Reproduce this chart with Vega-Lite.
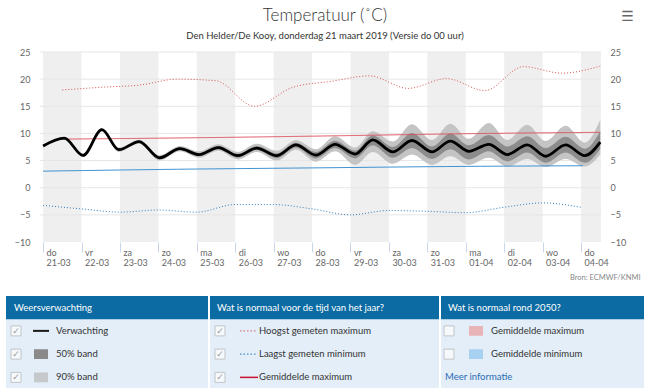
{
 "$schema": "https://vega.github.io/schema/vega-lite/v6.json",
 "padding": {"left": 6, "top": 6, "right": 5, "bottom": 0},
 "background": "white",
 "title": {"text": "Temperatuur (˚C)", "subtitle": "Den Helder/De Kooy, donderdag 21 maart 2019 (Versie do 00 uur)", "anchor": "middle", "fontSize": 17, "font": "Lato", "fontWeight": 300, "color": "#333333", "subtitleFont": "Lato", "subtitleFontSize": 9.5, "subtitleColor": "#333333", "subtitlePadding": 6, "offset": -32},
 "datasets": {
  "days": [{"start": 0, "end": 1}, {"start": 2, "end": 3}, {"start": 4, "end": 5}, {"start": 6, "end": 7}, {"start": 8, "end": 9}, {"start": 10, "end": 11}, {"start": 12, "end": 13}, {"start": 14, "end": 15}],
  "grid": [{"v": -5}, {"v": 0}, {"v": 5}, {"v": 10}, {"v": 15}, {"v": 20}, {"v": 25}],
  "fc": [
   {"day": 0, "val": 7.7, "lo90": 7.55, "lo50": 7.62, "hi50": 7.78, "hi90": 7.85},
   {"day": 0.55, "val": 9.15, "lo90": 8.95, "lo50": 9.05, "hi50": 9.25, "hi90": 9.35},
   {"day": 1.04, "val": 5.95, "lo90": 5.7, "lo50": 5.82, "hi50": 6.1, "hi90": 6.25},
   {"day": 1.53, "val": 10.7, "lo90": 10.35, "lo50": 10.5, "hi50": 10.85, "hi90": 10.95},
   {"day": 1.97, "val": 7.0, "lo90": 6.6, "lo50": 6.8, "hi50": 7.2, "hi90": 7.4},
   {"day": 2.5, "val": 8.5, "lo90": 8.1, "lo50": 8.3, "hi50": 8.65, "hi90": 8.85},
   {"day": 3.03, "val": 5.5, "lo90": 5.0, "lo50": 5.25, "hi50": 5.75, "hi90": 6.0},
   {"day": 3.56, "val": 7.2, "lo90": 6.7, "lo50": 6.95, "hi50": 7.45, "hi90": 7.7},
   {"day": 4.06, "val": 6.1, "lo90": 5.5, "lo50": 5.8, "hi50": 6.4, "hi90": 6.7},
   {"day": 4.56, "val": 7.4, "lo90": 6.8, "lo50": 7.1, "hi50": 7.7, "hi90": 8.0},
   {"day": 5.07, "val": 5.9, "lo90": 5.2, "lo50": 5.55, "hi50": 6.25, "hi90": 6.6},
   {"day": 5.56, "val": 7.3, "lo90": 6.6, "lo50": 6.95, "hi50": 7.65, "hi90": 8.1},
   {"day": 6.08, "val": 5.9, "lo90": 5.0, "lo50": 5.45, "hi50": 6.35, "hi90": 6.8},
   {"day": 6.58, "val": 7.9, "lo90": 7.0, "lo50": 7.4, "hi50": 8.3, "hi90": 8.8},
   {"day": 7.1, "val": 6.0, "lo90": 4.8, "lo50": 5.4, "hi50": 6.6, "hi90": 7.1},
   {"day": 7.6, "val": 8.0, "lo90": 6.7, "lo50": 7.3, "hi50": 8.65, "hi90": 9.5},
   {"day": 8.12, "val": 6.2, "lo90": 4.2, "lo50": 5.4, "hi50": 6.8, "hi90": 7.4},
   {"day": 8.58, "val": 8.8, "lo90": 6.6, "lo50": 7.8, "hi50": 9.6, "hi90": 10.4},
   {"day": 9.1, "val": 6.6, "lo90": 4.4, "lo50": 5.5, "hi50": 7.5, "hi90": 8.5},
   {"day": 9.6, "val": 8.7, "lo90": 6.1, "lo50": 7.3, "hi50": 10.1, "hi90": 11.7},
   {"day": 10.12, "val": 6.6, "lo90": 4.2, "lo50": 5.3, "hi50": 7.6, "hi90": 8.8},
   {"day": 10.6, "val": 8.6, "lo90": 5.8, "lo50": 7.1, "hi50": 10.0, "hi90": 11.8},
   {"day": 11.08, "val": 6.7, "lo90": 4.2, "lo50": 5.2, "hi50": 7.8, "hi90": 9.0},
   {"day": 11.6, "val": 8.0, "lo90": 5.5, "lo50": 6.7, "hi50": 9.7, "hi90": 11.9},
   {"day": 12.08, "val": 6.1, "lo90": 3.9, "lo50": 4.85, "hi50": 7.6, "hi90": 8.8},
   {"day": 12.6, "val": 7.9, "lo90": 5.3, "lo50": 6.5, "hi50": 9.5, "hi90": 11.6},
   {"day": 13.08, "val": 5.8, "lo90": 3.8, "lo50": 4.6, "hi50": 7.3, "hi90": 8.6},
   {"day": 13.6, "val": 7.9, "lo90": 5.3, "lo50": 6.5, "hi50": 9.4, "hi90": 11.4},
   {"day": 14.1, "val": 5.9, "lo90": 3.9, "lo50": 4.6, "hi50": 7.2, "hi90": 8.3},
   {"day": 14.5, "val": 8.4, "lo90": 6.1, "lo50": 7.2, "hi50": 10.4, "hi90": 12.5}
  ],
  "normals": [
   {"series": "Hoogst gemeten maximum", "day": 0.5, "v": 18.0},
   {"series": "Hoogst gemeten maximum", "day": 1.5, "v": 18.5},
   {"series": "Hoogst gemeten maximum", "day": 2.5, "v": 18.9},
   {"series": "Hoogst gemeten maximum", "day": 3.5, "v": 20.0},
   {"series": "Hoogst gemeten maximum", "day": 4.5, "v": 19.7},
   {"series": "Hoogst gemeten maximum", "day": 5.5, "v": 15.0},
   {"series": "Hoogst gemeten maximum", "day": 6.5, "v": 18.5},
   {"series": "Hoogst gemeten maximum", "day": 7.5, "v": 19.6},
   {"series": "Hoogst gemeten maximum", "day": 8.5, "v": 20.6},
   {"series": "Hoogst gemeten maximum", "day": 9.5, "v": 18.3},
   {"series": "Hoogst gemeten maximum", "day": 10.5, "v": 20.1},
   {"series": "Hoogst gemeten maximum", "day": 11.5, "v": 17.9},
   {"series": "Hoogst gemeten maximum", "day": 12.5, "v": 22.3},
   {"series": "Hoogst gemeten maximum", "day": 13.5, "v": 21.1},
   {"series": "Hoogst gemeten maximum", "day": 14.5, "v": 22.4},
   {"series": "Laagst gemeten minimum", "day": 0, "v": -3.25},
   {"series": "Laagst gemeten minimum", "day": 1, "v": -3.9},
   {"series": "Laagst gemeten minimum", "day": 2, "v": -4.5},
   {"series": "Laagst gemeten minimum", "day": 3, "v": -4.1},
   {"series": "Laagst gemeten minimum", "day": 4, "v": -4.5},
   {"series": "Laagst gemeten minimum", "day": 5, "v": -3.1},
   {"series": "Laagst gemeten minimum", "day": 6, "v": -3.1},
   {"series": "Laagst gemeten minimum", "day": 7, "v": -3.9},
   {"series": "Laagst gemeten minimum", "day": 8, "v": -5.0},
   {"series": "Laagst gemeten minimum", "day": 9, "v": -4.2},
   {"series": "Laagst gemeten minimum", "day": 10, "v": -4.35},
   {"series": "Laagst gemeten minimum", "day": 11, "v": -4.6},
   {"series": "Laagst gemeten minimum", "day": 12, "v": -3.6},
   {"series": "Laagst gemeten minimum", "day": 13, "v": -2.8},
   {"series": "Laagst gemeten minimum", "day": 14, "v": -3.6},
   {"series": "Gemiddelde maximum", "day": 0.5, "v": 8.95},
   {"series": "Gemiddelde maximum", "day": 4.5, "v": 9.25},
   {"series": "Gemiddelde maximum", "day": 7.5, "v": 9.55},
   {"series": "Gemiddelde maximum", "day": 11, "v": 9.95},
   {"series": "Gemiddelde maximum", "day": 14.5, "v": 10.2},
   {"series": "Gemiddelde minimum", "day": 0, "v": 3.05},
   {"series": "Gemiddelde minimum", "day": 3.5, "v": 3.4},
   {"series": "Gemiddelde minimum", "day": 7, "v": 3.65},
   {"series": "Gemiddelde minimum", "day": 10.5, "v": 3.9},
   {"series": "Gemiddelde minimum", "day": 14.05, "v": 4.05}
  ],
  "legend": [
   {"col": "c1", "row": "h", "label": "Weersverwachting", "kind": "header", "item": "", "checked": false},
   {"col": "c1", "row": "1", "label": "Verwachting", "kind": "line", "item": "Verwachting", "checked": true},
   {"col": "c1", "row": "2", "label": "50% band", "kind": "square", "item": "50% band", "checked": true},
   {"col": "c1", "row": "3", "label": "90% band", "kind": "square", "item": "90% band", "checked": true},
   {"col": "c2", "row": "h", "label": "Wat is normaal voor de tijd van het jaar?", "kind": "header", "item": "", "checked": false},
   {"col": "c2", "row": "1", "label": "Hoogst gemeten maximum", "kind": "dotted", "item": "Hoogst gemeten maximum", "checked": true},
   {"col": "c2", "row": "2", "label": "Laagst gemeten minimum", "kind": "dotted", "item": "Laagst gemeten minimum", "checked": true},
   {"col": "c2", "row": "3", "label": "Gemiddelde maximum", "kind": "line", "item": "Gemiddelde maximum", "checked": true},
   {"col": "c3", "row": "h", "label": "Wat is normaal rond 2050?", "kind": "header", "item": "", "checked": false},
   {"col": "c3", "row": "1", "label": "Gemiddelde maximum", "kind": "square", "item": "2050 maximum", "checked": false},
   {"col": "c3", "row": "2", "label": "Gemiddelde minimum", "kind": "square", "item": "2050 minimum", "checked": false},
   {"col": "c3", "row": "3", "label": "Meer informatie", "kind": "link", "item": "", "checked": false}
  ]
 },
 "vconcat": [
  {
   "width": 595,
   "height": 190,
   "encoding": {
    "x": {"type": "quantitative", "title": "Bron: ECMWF/KNMI",
     "scale": {"domain": [-0.965, 14.52], "nice": false, "zero": false},
     "axis": {"values": [0, 1, 2, 3, 4, 5, 6, 7, 8, 9, 10, 11, 12, 13, 14], "grid": false, "domain": false, "tickColor": "#ccd6eb", "tickSize": 10, "labelAlign": "left", "labelBaseline": "top", "labelPadding": -4, "labelOffset": 3, "labelFontSize": 9, "labelColor": "#666666", "labelLineHeight": 10.5, "labelFlush": false, "labelOverlap": false,
      "labelExpr": "[datum.value % 7 == 0 ? 'do' : datum.value % 7 == 1 ? 'vr' : datum.value % 7 == 2 ? 'za' : datum.value % 7 == 3 ? 'zo' : datum.value % 7 == 4 ? 'ma' : datum.value % 7 == 5 ? 'di' : 'wo', datum.value <= 10 ? (21 + datum.value) + '-03' : '0' + (datum.value - 10) + '-04']",
      "titleAnchor": "end", "titleAlign": "right", "titleFontSize": 7.5, "titleColor": "#888888", "titleFontWeight": "normal", "titleX": 634, "titleY": 35, "titleBaseline": "middle"}}
   },
   "layer": [
    {
     "data": {"name": "days"},
     "mark": {"type": "rect", "color": "#efefef", "clip": true},
     "encoding": {
      "x": {"field": "start"},
      "x2": {"field": "end"}
     }
    },
    {
     "data": {"name": "grid"},
     "mark": {"type": "rule", "color": "#e6e6e6", "strokeWidth": 1},
     "encoding": {
      "x": {"datum": -0.08},
      "x2": {"datum": 14.52},
      "y": {"field": "v", "type": "quantitative", "scale": {"domain": [-10, 25], "nice": false}, "title": null,
       "axis": {"values": [-10, -5, 0, 5, 10, 15, 20, 25], "grid": false, "domain": false, "ticks": false, "offset": -34, "labelPadding": 10, "labelFontSize": 9, "labelColor": "#666666"}}
     }
    },
    {
     "data": {"name": "fc"},
     "mark": {"type": "area", "interpolate": "monotone", "color": "#c4c4c4"},
     "encoding": {
      "x": {"field": "day"},
      "y": {"field": "lo90", "type": "quantitative", "axis": null},
      "y2": {"field": "hi90"}
     }
    },
    {
     "data": {"name": "fc"},
     "mark": {"type": "area", "interpolate": "monotone", "color": "#8c8c8c"},
     "encoding": {
      "x": {"field": "day"},
      "y": {"field": "lo50", "type": "quantitative", "axis": null},
      "y2": {"field": "hi50"}
     }
    },
    {
     "data": {"name": "normals"},
     "mark": {"type": "line", "interpolate": "monotone"},
     "encoding": {
      "x": {"field": "day"},
      "y": {"field": "v", "type": "quantitative", "axis": null},
      "color": {"field": "series", "type": "nominal", "legend": null, "scale": {"domain": ["Hoogst gemeten maximum", "Laagst gemeten minimum", "Gemiddelde maximum", "Gemiddelde minimum"], "range": ["#d9534f", "#2f7fc1", "#dd4f5c", "#3a8fd0"]}},
      "strokeDash": {"field": "series", "type": "nominal", "legend": null, "scale": {"domain": ["Hoogst gemeten maximum", "Laagst gemeten minimum", "Gemiddelde maximum", "Gemiddelde minimum"], "range": [[1, 2], [1, 2], [1, 0], [1, 0]]}},
      "strokeWidth": {"field": "series", "type": "nominal", "legend": null, "scale": {"domain": ["Hoogst gemeten maximum", "Laagst gemeten minimum", "Gemiddelde maximum", "Gemiddelde minimum"], "range": [1, 1, 1.3, 1.6]}}
     }
    },
    {
     "data": {"name": "fc"},
     "mark": {"type": "line", "interpolate": "monotone", "color": "#000000", "strokeWidth": 2.8},
     "encoding": {
      "x": {"field": "day"},
      "y": {"field": "val", "type": "quantitative", "title": "☰",
       "axis": {"orient": "right", "values": [-10, -5, 0, 5, 10, 15, 20, 25], "grid": false, "domain": false, "ticks": false, "labelPadding": 9, "labelFontSize": 9, "labelColor": "#666666",
        "titleAngle": 0, "titleX": 26, "titleY": -36, "titleFontSize": 14, "titleColor": "#666666", "titleFont": "DejaVu Sans", "titleFontWeight": "normal", "titleAlign": "center", "titleBaseline": "middle"}}
     }
    },
    {
     "mark": {"type": "rule", "color": "#ccd6eb", "strokeWidth": 1},
     "encoding": {
      "x": {"datum": -0.08},
      "x2": {"datum": 14.52},
      "y": {"datum": -10, "axis": null}
     }
    }
   ],
   "resolve": {"axis": {"y": "independent"}}
  },
  {
   "hconcat": [
    {
     "width": 202, "height": 93,
     "view": {"fill": "#e3eef8", "stroke": null},
     "data": {"name": "legend"},
     "transform": [{"filter": "datum.col == 'c1'"}],
     "layer": [
      {"transform": [{"filter": "datum.row == 'h'"}], "mark": {"type": "rect", "color": "#0c6ba3"},
       "encoding": {"x": {"field": "col", "type": "nominal", "scale": {"type": "band", "paddingInner": 0, "paddingOuter": 0}, "axis": null},
        "y": {"field": "row", "type": "ordinal", "scale": {"type": "band", "domain": ["h", "1", "2", "3"], "paddingInner": 0, "paddingOuter": 0}, "axis": null}}},
      {"transform": [{"filter": "datum.row == 'h'"}], "mark": {"type": "text", "align": "left", "dx": 8, "color": "#ffffff", "fontSize": 9.5},
       "encoding": {"x": {"field": "col", "type": "nominal", "bandPosition": 0, "axis": null}, "y": {"field": "row", "type": "ordinal", "axis": null}, "text": {"field": "label"}}},
      {"transform": [{"filter": "datum.kind != 'header' && datum.kind != 'link'"}], "mark": {"type": "point", "shape": "square", "size": 100, "filled": true, "fill": "#ffffff", "stroke": "#b5b5b5", "strokeWidth": 1, "xOffset": 10},
       "encoding": {"x": {"field": "col", "type": "nominal", "bandPosition": 0, "axis": null}, "y": {"field": "row", "type": "ordinal", "axis": null}}},
      {"transform": [{"filter": "datum.checked"}], "mark": {"type": "text", "text": "✓", "font": "DejaVu Sans", "fontSize": 9, "color": "#999999", "align": "center", "dx": 10},
       "encoding": {"x": {"field": "col", "type": "nominal", "bandPosition": 0, "axis": null}, "y": {"field": "row", "type": "ordinal", "axis": null}}},
      {"transform": [{"filter": "datum.kind == 'line'"}], "mark": {"type": "point", "shape": "M-1,0H1", "size": 256, "filled": false, "strokeWidth": 2, "xOffset": 35, "opacity": 1},
       "encoding": {"x": {"field": "col", "type": "nominal", "bandPosition": 0, "axis": null}, "y": {"field": "row", "type": "ordinal", "axis": null},
        "color": {"field": "item", "type": "nominal", "legend": null, "scale": {"domain": ["Verwachting", "50% band", "90% band", "Hoogst gemeten maximum", "Laagst gemeten minimum", "Gemiddelde maximum", "2050 maximum", "2050 minimum"], "range": ["#1a1a1a", "#8a8a8a", "#c6c9cc", "#d97a85", "#4a8cc8", "#c8102e", "#e8b4b8", "#a8d0f0"]}}}},
      {"transform": [{"filter": "datum.kind == 'square'"}], "mark": {"type": "point", "shape": "M-1,-0.7H1V0.7H-1Z", "size": 196, "filled": true, "xOffset": 35, "opacity": 1},
       "encoding": {"x": {"field": "col", "type": "nominal", "bandPosition": 0, "axis": null}, "y": {"field": "row", "type": "ordinal", "axis": null},
        "color": {"field": "item", "type": "nominal", "legend": null}}},
      {"transform": [{"filter": "datum.kind != 'header' && datum.kind != 'link'"}], "mark": {"type": "text", "align": "left", "dx": 50, "color": "#333333", "fontSize": 9.5},
       "encoding": {"x": {"field": "col", "type": "nominal", "bandPosition": 0, "axis": null}, "y": {"field": "row", "type": "ordinal", "axis": null}, "text": {"field": "label"}}}
     ]
    },
    {
     "width": 229, "height": 93,
     "view": {"fill": "#e3eef8", "stroke": null},
     "data": {"name": "legend"},
     "transform": [{"filter": "datum.col == 'c2'"}],
     "layer": [
      {"transform": [{"filter": "datum.row == 'h'"}], "mark": {"type": "rect", "color": "#0c6ba3"},
       "encoding": {"x": {"field": "col", "type": "nominal", "scale": {"type": "band", "paddingInner": 0, "paddingOuter": 0}, "axis": null},
        "y": {"field": "row", "type": "ordinal", "scale": {"type": "band", "domain": ["h", "1", "2", "3"], "paddingInner": 0, "paddingOuter": 0}, "axis": null}}},
      {"transform": [{"filter": "datum.row == 'h'"}], "mark": {"type": "text", "align": "left", "dx": 7, "color": "#ffffff", "fontSize": 9.5},
       "encoding": {"x": {"field": "col", "type": "nominal", "bandPosition": 0, "axis": null}, "y": {"field": "row", "type": "ordinal", "axis": null}, "text": {"field": "label"}}},
      {"transform": [{"filter": "datum.kind != 'header' && datum.kind != 'link'"}], "mark": {"type": "point", "shape": "square", "size": 100, "filled": true, "fill": "#ffffff", "stroke": "#b5b5b5", "strokeWidth": 1, "xOffset": 10},
       "encoding": {"x": {"field": "col", "type": "nominal", "bandPosition": 0, "axis": null}, "y": {"field": "row", "type": "ordinal", "axis": null}}},
      {"transform": [{"filter": "datum.checked"}], "mark": {"type": "text", "text": "✓", "font": "DejaVu Sans", "fontSize": 9, "color": "#999999", "align": "center", "dx": 10},
       "encoding": {"x": {"field": "col", "type": "nominal", "bandPosition": 0, "axis": null}, "y": {"field": "row", "type": "ordinal", "axis": null}}},
      {"transform": [{"filter": "datum.kind == 'line'"}], "mark": {"type": "point", "shape": "M-1,0H1", "size": 324, "filled": false, "strokeWidth": 1.5, "xOffset": 39, "opacity": 1},
       "encoding": {"x": {"field": "col", "type": "nominal", "bandPosition": 0, "axis": null}, "y": {"field": "row", "type": "ordinal", "axis": null},
        "color": {"field": "item", "type": "nominal", "legend": null}}},
      {"transform": [{"filter": "datum.kind == 'dotted'"}], "mark": {"type": "point", "shape": "M-1,0H1", "size": 256, "filled": false, "strokeWidth": 1.2, "strokeDash": [1.5, 2], "xOffset": 38, "opacity": 1},
       "encoding": {"x": {"field": "col", "type": "nominal", "bandPosition": 0, "axis": null}, "y": {"field": "row", "type": "ordinal", "axis": null},
        "color": {"field": "item", "type": "nominal", "legend": null}}},
      {"transform": [{"filter": "datum.kind != 'header' && datum.kind != 'link'"}], "mark": {"type": "text", "align": "left", "dx": 49, "color": "#333333", "fontSize": 9.5},
       "encoding": {"x": {"field": "col", "type": "nominal", "bandPosition": 0, "axis": null}, "y": {"field": "row", "type": "ordinal", "axis": null}, "text": {"field": "label"}}}
     ]
    },
    {
     "width": 203, "height": 93,
     "view": {"fill": "#e3eef8", "stroke": null},
     "data": {"name": "legend"},
     "transform": [{"filter": "datum.col == 'c3'"}],
     "layer": [
      {"transform": [{"filter": "datum.row == 'h'"}], "mark": {"type": "rect", "color": "#0c6ba3"},
       "encoding": {"x": {"field": "col", "type": "nominal", "scale": {"type": "band", "paddingInner": 0, "paddingOuter": 0}, "axis": null},
        "y": {"field": "row", "type": "ordinal", "scale": {"type": "band", "domain": ["h", "1", "2", "3"], "paddingInner": 0, "paddingOuter": 0}, "axis": null}}},
      {"transform": [{"filter": "datum.row == 'h'"}], "mark": {"type": "text", "align": "left", "dx": 7, "color": "#ffffff", "fontSize": 9.5},
       "encoding": {"x": {"field": "col", "type": "nominal", "bandPosition": 0, "axis": null}, "y": {"field": "row", "type": "ordinal", "axis": null}, "text": {"field": "label"}}},
      {"transform": [{"filter": "datum.kind != 'header' && datum.kind != 'link'"}], "mark": {"type": "point", "shape": "square", "size": 100, "filled": true, "fill": "#ffffff", "stroke": "#b5b5b5", "strokeWidth": 1, "xOffset": 8},
       "encoding": {"x": {"field": "col", "type": "nominal", "bandPosition": 0, "axis": null}, "y": {"field": "row", "type": "ordinal", "axis": null}}},
      {"transform": [{"filter": "datum.kind == 'square'"}], "mark": {"type": "point", "shape": "M-1,-0.7H1V0.7H-1Z", "size": 196, "filled": true, "xOffset": 35, "opacity": 1},
       "encoding": {"x": {"field": "col", "type": "nominal", "bandPosition": 0, "axis": null}, "y": {"field": "row", "type": "ordinal", "axis": null},
        "color": {"field": "item", "type": "nominal", "legend": null}}},
      {"transform": [{"filter": "datum.kind != 'header' && datum.kind != 'link'"}], "mark": {"type": "text", "align": "left", "dx": 50, "color": "#333333", "fontSize": 9.5},
       "encoding": {"x": {"field": "col", "type": "nominal", "bandPosition": 0, "axis": null}, "y": {"field": "row", "type": "ordinal", "axis": null}, "text": {"field": "label"}}},
      {"transform": [{"filter": "datum.kind == 'link'"}], "mark": {"type": "text", "align": "left", "dx": 4, "color": "#2a6cb5", "fontSize": 9.5},
       "encoding": {"x": {"field": "col", "type": "nominal", "bandPosition": 0, "axis": null}, "y": {"field": "row", "type": "ordinal", "axis": null}, "text": {"field": "label"}}}
     ]
    }
   ],
   "spacing": 2,
   "resolve": {"scale": {"x": "independent", "y": "independent"}}
  }
 ],
 "spacing": 15,
 "resolve": {"scale": {"color": "independent", "strokeDash": "independent", "strokeWidth": "independent"}},
 "config": {"font": "Lato", "view": {"stroke": null}, "axis": {"labelFont": "Lato"}}
}
